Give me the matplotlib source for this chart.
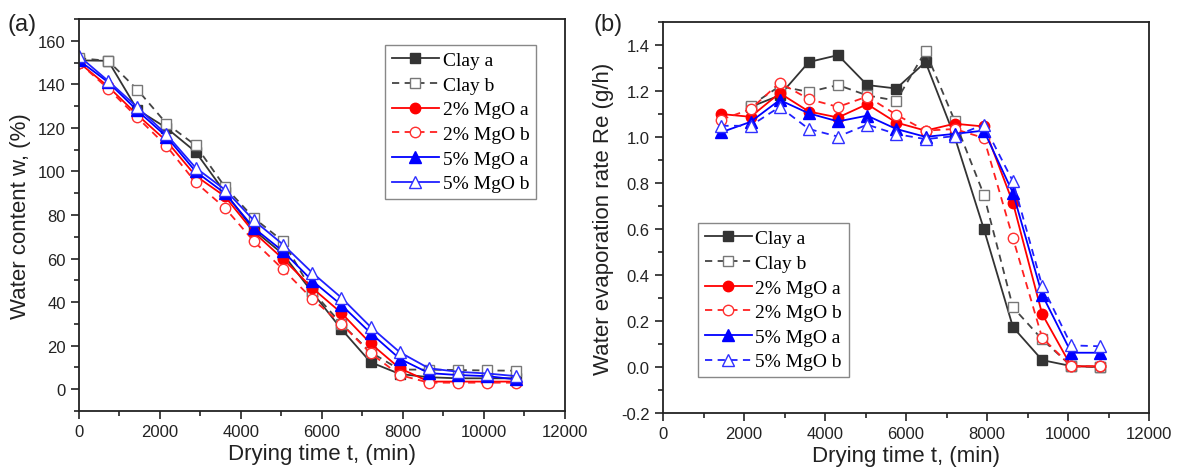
import numpy as np
from matplotlib import pyplot as plt
from matplotlib.ticker import MultipleLocator, FuncFormatter

plt.rcParams['font.family'] = ['Liberation Sans', 'DejaVu Sans']
plt.rcParams['axes.unicode_minus'] = False

# (a) water content, time in min
t_a = [0, 720, 1440, 2160, 2880, 3600, 4320, 5040, 5760, 6480, 7200, 7920, 8640, 9360, 10080, 10800]
clay_a_w = [151, 150.8, 128.4, 120, 109, 90.5, 73, 62, 44.5, 27.6, 12.4, 7, 5.5, 5, 5, 5]
clay_b_w = [152, 150.8, 137.6, 122, 112, 93, 78.6, 67.9, 45, 30, 17, 9, 9, 8.8, 8.6, 8.5]
mgo2_a_w = [150, 139, 126, 114, 98, 88.6, 72, 59.8, 46.5, 35, 21, 9.6, 3.5, 3.5, 3.5, 3.5]
mgo2_b_w = [150, 138, 124.8, 111.7, 95, 83.3, 67.9, 55, 41.5, 30, 16.5, 6.5, 3, 3, 3, 3]
mgo5_a_w = [151, 141, 128, 116, 100, 90, 74, 63.3, 49.8, 38.7, 25.8, 14, 7.4, 6.5, 6, 4.5]
mgo5_b_w = [153, 141.6, 129.5, 117, 101.7, 91.7, 77.5, 66.4, 53.5, 42, 28.6, 17, 9.6, 8, 7.2, 6]

# (b) evaporation rate, g/h
t_b = [1440, 2160, 2880, 3600, 4320, 5040, 5760, 6480, 7200, 7920, 8640, 9360, 10080, 10800]
clay_a_r = [np.nan, 1.13, 1.18, 1.325, 1.355, 1.225, 1.21, 1.325, 1.0, 0.6, 0.173, 0.03, 0.004, 0.0]
clay_b_r = [np.nan, 1.135, 1.22, 1.195, 1.225, 1.18, 1.157, 1.372, 1.07, 0.749, 0.259, 0.12, 0.004, 0.0]
mgo2_a_r = [1.099, 1.087, 1.19, 1.11, 1.084, 1.142, 1.062, 1.027, 1.057, 1.045, 0.713, 0.23, 0.003, 0.003]
mgo2_b_r = [1.075, 1.12, 1.235, 1.164, 1.13, 1.175, 1.096, 1.027, 1.034, 0.995, 0.559, 0.127, 0.003, 0.003]
mgo5_a_r = [1.02, 1.065, 1.16, 1.102, 1.067, 1.092, 1.034, 1.0, 1.013, 1.027, 0.756, 0.314, 0.062, 0.062]
mgo5_b_r = [1.048, 1.048, 1.13, 1.034, 1.001, 1.053, 1.012, 0.99, 1.003, 1.053, 0.806, 0.353, 0.094, 0.09]

labels = ['Clay a', 'Clay b', '2% MgO a', '2% MgO b', '5% MgO a', '5% MgO b']
dash = (0, (4, 3))
lw = 1.3
ms = 7.5


def style_axis(ax, ylabel):
	ax.set_xlim(0, 12000)
	ax.xaxis.set_major_locator(MultipleLocator(2000))
	ax.xaxis.set_minor_locator(MultipleLocator(1000))
	ax.tick_params(which='both', direction='out', top=False, right=False, labelsize=12, colors='#222222')
	ax.tick_params(which='major', length=6, width=1.2)
	ax.tick_params(which='minor', length=3.5, width=1.2)
	for s in ax.spines.values():
		s.set_linewidth(1.3)
		s.set_color('#222222')
	ax.set_xlabel('Drying time t, (min)', fontsize=16, color='#222222', labelpad=3)
	ax.set_ylabel(ylabel, fontsize=16, color='#222222', labelpad=5)


def draw(ax, t, series, b_dashed_blue):
	ca, cb, ra, rb, ba, bb = series
	ax.plot(t, ca, color='#333333', lw=lw, marker='s', ms=ms - 0.5, mfc='#333333', mec='#333333', label=labels[0])
	ax.plot(t, cb, color='#444444', lw=lw, ls=dash, marker='s', ms=ms - 0.5, mfc='white', mec='#777777', mew=1.0, label=labels[1])
	ax.plot(t, ra, color='#ff0000', lw=lw, marker='o', ms=ms, mfc='#ff0000', mec='#ff0000', label=labels[2])
	ax.plot(t, rb, color='#ff2020', lw=lw, ls=dash, marker='o', ms=ms, mfc='white', mec='#ff3030', mew=1.0, label=labels[3])
	ax.plot(t, ba, color='#0000ff', lw=lw, marker='^', ms=ms + 0.5, mfc='#0000ff', mec='#0000ff', label=labels[4])
	ax.plot(t, bb, color='#2020ff', lw=lw, ls=dash if b_dashed_blue else '-', marker='^', ms=ms + 0.5,
			mfc='white', mec='#3030ff', mew=1.0, label=labels[5])


fig = plt.figure(figsize=(11.8, 4.77), dpi=100)
ax1 = fig.add_axes([0.0669, 0.1363, 0.4119, 0.8218])
ax2 = fig.add_axes([0.5619, 0.132, 0.4119, 0.8203])

draw(ax1, t_a, [clay_a_w, clay_b_w, mgo2_a_w, mgo2_b_w, mgo5_a_w, mgo5_b_w], False)
style_axis(ax1, 'Water content w, (%)')
ax1.set_ylim(-10, 170)
ax1.yaxis.set_major_locator(MultipleLocator(20))
ax1.yaxis.set_minor_locator(MultipleLocator(10))

draw(ax2, t_b, [clay_a_r, clay_b_r, mgo2_a_r, mgo2_b_r, mgo5_a_r, mgo5_b_r], True)
style_axis(ax2, 'Water evaporation rate Re (g/h)')
ax2.set_ylim(-0.2, 1.5)
ax2.yaxis.set_major_locator(MultipleLocator(0.2))
ax2.yaxis.set_minor_locator(MultipleLocator(0.1))
ax2.yaxis.set_major_formatter(FuncFormatter(lambda v, p: '%.1f' % v))

leg_kw = dict(prop={'family': 'Liberation Serif', 'size': 14}, frameon=True, fancybox=False,
			  edgecolor='#888888', framealpha=1, borderaxespad=0, handlelength=2.4,
			  handletextpad=0.2, labelspacing=0.36, borderpad=0.35)
l1 = ax1.legend(loc='upper left', bbox_to_anchor=(0.63, 0.934), **leg_kw)
l2 = ax2.legend(loc='upper left', bbox_to_anchor=(0.072, 0.486), **leg_kw)
for l in (l1, l2):
	l.get_frame().set_linewidth(1.0)

fig.text(0.006, 0.935, '(a)', fontsize=17, color='#222222')
fig.text(0.503, 0.935, '(b)', fontsize=17, color='#222222')

plt.savefig('out.png', dpi=100)
